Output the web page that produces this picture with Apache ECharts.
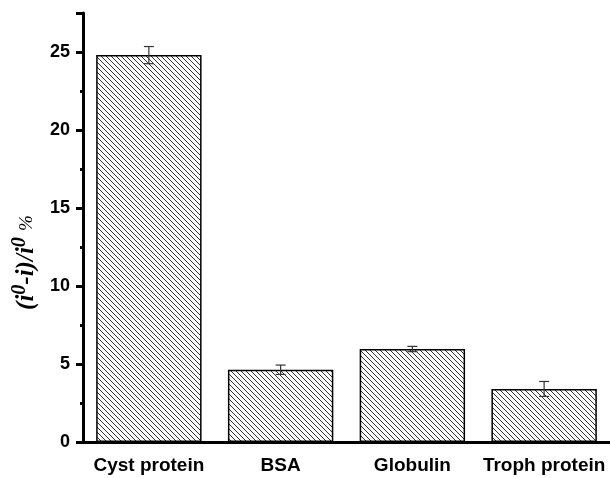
<!DOCTYPE html>
<html><head><meta charset="utf-8">
<script src="https://cdn.jsdelivr.net/npm/echarts@6/dist/echarts.min.js"></script>
<style>html,body{margin:0;padding:0;background:#fff}#c{width:610px;height:478px}</style>
</head><body><div id="c"></div>
<script>
const categories = ['Cyst protein', 'BSA', 'Globulin', 'Troph protein'];
const values = [24.8, 4.63, 5.96, 3.4];
const errors = [0.55, 0.3, 0.17, 0.48];
const yTicks = [0, 5, 10, 15, 20, 25];

// hatch pattern
const pc = document.createElement('canvas');
pc.width = 5; pc.height = 5;
const g = pc.getContext('2d');
g.fillStyle = '#fff'; g.fillRect(0,0,5,5);
g.strokeStyle = '#333'; g.lineWidth = 1;
g.beginPath();
g.moveTo(-1,-1); g.lineTo(6,6);
g.moveTo(-1,4); g.lineTo(1,6);
g.moveTo(4,-1); g.lineTo(6,1);
g.stroke();

const chart = echarts.init(document.getElementById('c'));
const errData = categories.map((c, i) => [i, values[i] - errors[i], values[i] + errors[i]]);
chart.setOption({
  animation: false,
  grid: {left: 83, right: 0, top: 13, bottom: 36, containLabel: false, outerBoundsMode: 'none'},
  xAxis: [{
    type: 'category', data: categories,
    axisLine: {lineStyle: {color: '#000', width: 3}},
    axisTick: {alignWithLabel: true, length: 8, lineStyle: {color: '#000', width: 3}},
    axisLabel: {interval: 0, color: '#000', fontFamily: 'Liberation Sans', fontWeight: 'bold', fontSize: 19, margin: 14}
  }, {
    type: 'category', data: categories, position: 'bottom',
    axisLine: {show: false},
    axisTick: {interval: 0, length: 4, lineStyle: {color: '#000', width: 3}},
    axisLabel: {show: false}
  }],
  yAxis: {
    type: 'value', min: 0, max: 27.5, interval: 5,
    axisLine: {show: true, lineStyle: {color: '#000', width: 3}},
    axisTick: {show: true, length: 7, lineStyle: {color: '#000', width: 3}},
    minorTick: {show: true, splitNumber: 2, length: 3, lineStyle: {color: '#000', width: 3}},
    splitLine: {show: false},
    axisLabel: {color: '#000', fontFamily: 'Liberation Sans', fontWeight: 'bold', fontSize: 18, margin: 13,
      formatter: v => yTicks.includes(v) ? String(v) : ''},
    name: '(i{s|0}-i)/i{s|0} {p|%}',
    nameLocation: 'middle', nameRotate: 90, nameGap: 38,
    nameTextStyle: {
      fontFamily: 'Liberation Serif', fontStyle: 'italic', fontWeight: 'bold', fontSize: 25, color: '#000',
      padding: [0, 70, 0, 0],
      rich: {
        s: {fontFamily: 'Liberation Serif', fontStyle: 'italic', fontWeight: 'bold', fontSize: 20, verticalAlign: 'top', padding: [0,0,14,0]},
        p: {fontFamily: 'Liberation Serif', fontWeight: 'normal', fontSize: 19}
      }
    }
  },
  series: [{
    type: 'bar', data: values, barCategoryGap: '20%',
    itemStyle: {color: {image: pc, repeat: 'repeat'}, borderColor: '#000', borderWidth: 1.5}
  }, {
    type: 'custom', data: errData, z: 10,
    renderItem: (params, api) => {
      const x = api.value(0);
      const lo = api.coord([x, api.value(1)]);
      const hi = api.coord([x, api.value(2)]);
      const w = 5;
      const st = {stroke: '#333', lineWidth: 1.2};
      return {type: 'group', children: [
        {type: 'line', shape: {x1: lo[0], y1: lo[1], x2: hi[0], y2: hi[1]}, style: st},
        {type: 'line', shape: {x1: lo[0]-w, y1: lo[1], x2: lo[0]+w, y2: lo[1]}, style: st},
        {type: 'line', shape: {x1: hi[0]-w, y1: hi[1], x2: hi[0]+w, y2: hi[1]}, style: st}
      ]};
    }
  }]
});
</script></body></html>
